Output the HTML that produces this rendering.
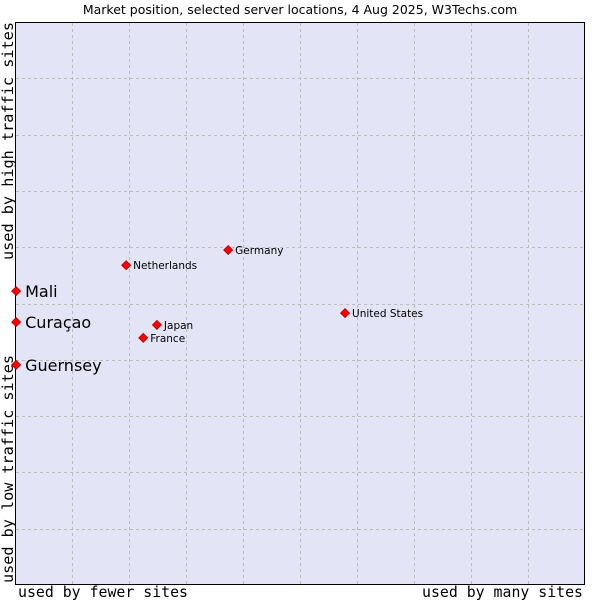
<!DOCTYPE html>
<html><head><meta charset="utf-8"><style>
body{margin:0;background:#fff;width:600px;height:600px;overflow:hidden}
svg{display:block;font-family:"DejaVu Sans","Liberation Sans",sans-serif}
</style></head><body>
<svg id="c" width="600" height="600">
<text x="300" y="14" font-size="12.5" text-anchor="middle" fill="#000">Market position, selected server locations, 4 Aug 2025, W3Techs.com</text>
<rect x="15.5" y="22.5" width="569" height="562" fill="#e3e5f7" stroke="#000" stroke-width="1"/>
<g id="grid"></g>
<g id="pts"></g>
<text x="18" y="597" textLength="170" lengthAdjust="spacingAndGlyphs" font-family="DejaVu Sans Mono,Liberation Mono,monospace" font-size="15">used by fewer sites</text>
<text x="422" y="597" textLength="161" lengthAdjust="spacingAndGlyphs" font-family="DejaVu Sans Mono,Liberation Mono,monospace" font-size="15">used by many sites</text>
<text transform="translate(13,583) rotate(-90)" textLength="228" lengthAdjust="spacingAndGlyphs" font-family="DejaVu Sans Mono,Liberation Mono,monospace" font-size="15">used by low traffic sites</text>
<text transform="translate(13,260) rotate(-90)" textLength="238" lengthAdjust="spacingAndGlyphs" font-family="DejaVu Sans Mono,Liberation Mono,monospace" font-size="15">used by high traffic sites</text>
</svg>
<script>
const names=["Mali","Curaçao","Guernsey","Netherlands","Germany","United States","Japan","France"];
const xs=[0.2,0.2,0.2,19.5,37.4,57.9,24.9,22.5];
const ys=[52.2,46.7,39.1,56.8,59.5,48.3,46.2,43.9];
const big=[true,true,true,false,false,false,false,false];
const X0=15,W=570,Y0=585,H=563;
const sx=v=>X0+v/100*W, sy=v=>Y0-v/100*H;
const NS="http://www.w3.org/2000/svg";
const g=document.getElementById('grid');
for(let i=1;i<10;i++){
 const v=document.createElementNS(NS,'line');
 
 
 const xx=Math.round(sx(i*10))+0.5;
 v.setAttribute('x1',xx);v.setAttribute('x2',xx);v.setAttribute('y1',23);v.setAttribute('y2',584);
 v.setAttribute('stroke','#bbbbbb');v.setAttribute('stroke-dasharray','3,3');g.appendChild(v);
 const h=document.createElementNS(NS,'line');
 
 
 const yy=Math.round(sy(i*10))+0.5;
 h.setAttribute('y1',yy);h.setAttribute('y2',yy);h.setAttribute('x1',16);h.setAttribute('x2',584);
 h.setAttribute('stroke','#bbbbbb');h.setAttribute('stroke-dasharray','3,3');g.appendChild(h);
}
const p=document.getElementById('pts');
names.forEach((n,i)=>{
 const x=sx(xs[i]),y=sy(ys[i]);
 const d=document.createElementNS(NS,'path');
 
 
 d.setAttribute('d',`M${x} ${y-4.5}L${x+4.5} ${y}L${x} ${y+4.5}L${x-4.5} ${y}Z`);
 d.setAttribute('fill','#ff0000');d.setAttribute('stroke','#b00000');d.setAttribute('stroke-width','0.8');
 p.appendChild(d);
 const t=document.createElementNS(NS,'text');
 
 
 t.setAttribute('x',x+(big[i]?9:7));t.setAttribute('y',y+(big[i]?6:4));
 t.setAttribute('font-size',big[i]?16:10.5);
 t.textContent=n;p.appendChild(t);
});
</script>
</body></html>
